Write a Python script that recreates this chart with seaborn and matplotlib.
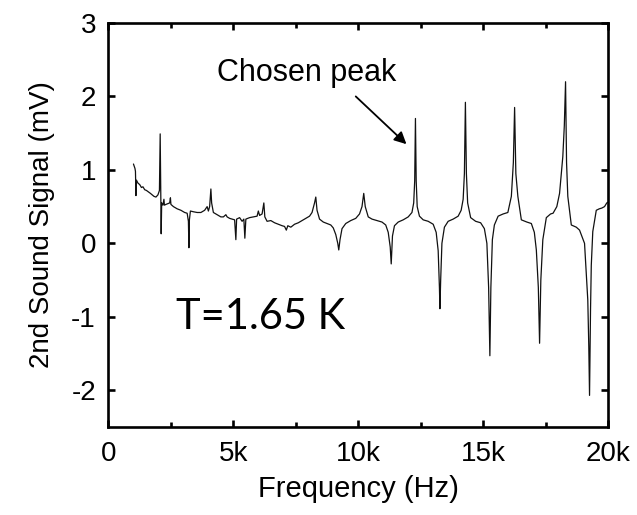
import matplotlib
matplotlib.use("Agg")
import matplotlib.pyplot as plt
import seaborn as sns
import pandas as pd

# ---- data ----
freq_khz = [
    1.00, 1.03, 1.06, 1.08, 1.10, 1.12, 1.18, 1.25, 1.32, 1.38, 1.45, 1.52, 1.60, 1.68, 1.75, 1.82, 1.90, 1.98,
    2.04, 2.07, 2.09, 2.11, 2.13, 2.18, 2.22, 2.24, 2.30, 2.45, 2.48, 2.50, 2.60, 2.75, 2.90, 3.05, 3.15,
    3.20, 3.22, 3.24, 3.28, 3.40, 3.55, 3.70, 3.85, 3.95, 4.00, 4.05, 4.10, 4.13, 4.20, 4.30, 4.40, 4.50,
    4.60, 4.70, 4.75, 4.85, 4.95, 5.05, 5.10, 5.13, 5.25, 5.35, 5.42, 5.46, 5.50, 5.65, 5.80, 5.95, 6.00,
    6.05, 6.15, 6.22, 6.26, 6.35, 6.50, 6.65, 6.80, 6.95, 7.05, 7.12, 7.18, 7.30, 7.45, 7.60, 7.75, 7.90,
    8.05, 8.15, 8.25, 8.30, 8.35, 8.45, 8.60, 8.75, 8.90, 9.00, 9.10, 9.18, 9.22, 9.27, 9.35, 9.50, 9.70,
    9.90, 10.05, 10.15, 10.22, 10.28, 10.40, 10.55, 10.75, 10.95, 11.10, 11.20, 11.28, 11.32, 11.37, 11.45,
    11.60, 11.80, 12.00, 12.15, 12.22, 12.26, 12.29, 12.32, 12.36, 12.45, 12.60, 12.80, 13.00, 13.12, 13.20,
    13.25, 13.27, 13.30, 13.35, 13.45, 13.60, 13.80, 14.00, 14.12, 14.20, 14.25, 14.29, 14.33, 14.38, 14.50,
    14.70, 14.90, 15.05, 15.15, 15.22, 15.27, 15.31, 15.37, 15.45, 15.60, 15.80, 15.99, 16.13, 16.21, 16.26,
    16.31, 16.39, 16.53, 16.75, 16.93, 17.05, 17.13, 17.21, 17.26, 17.31, 17.39, 17.53, 17.70, 17.80, 17.95,
    18.06, 18.19, 18.25, 18.30, 18.34, 18.39, 18.53, 18.73, 18.86, 19.06, 19.19, 19.23, 19.26, 19.30, 19.33,
    19.39, 19.53, 19.65, 19.75, 19.86, 19.95, 20.00,
]
signal_mv = [
    1.08, 1.05, 1.02, 0.98, 0.65, 0.86, 0.82, 0.80, 0.76, 0.77, 0.73, 0.72, 0.70, 0.68, 0.66, 0.64, 0.63, 0.66,
    0.72, 1.49, 0.75, 0.13, 0.55, 0.52, 0.60, 0.52, 0.53, 0.55, 0.62, 0.53, 0.50, 0.47, 0.45, 0.42, 0.41,
    0.30, -0.06, 0.32, 0.44, 0.43, 0.42, 0.42, 0.45, 0.50, 0.44, 0.50, 0.74, 0.55, 0.42, 0.40, 0.38, 0.36,
    0.36, 0.39, 0.36, 0.34, 0.33, 0.32, 0.05, 0.33, 0.35, 0.30, 0.33, 0.07, 0.33, 0.35, 0.36, 0.37, 0.44,
    0.38, 0.40, 0.55, 0.36, 0.30, 0.31, 0.28, 0.26, 0.24, 0.23, 0.18, 0.24, 0.22, 0.26, 0.28, 0.31, 0.34,
    0.37, 0.42, 0.55, 0.63, 0.45, 0.33, 0.29, 0.27, 0.25, 0.21, 0.12, 0.00, -0.09, 0.05, 0.20, 0.27, 0.31,
    0.34, 0.40, 0.50, 0.68, 0.50, 0.36, 0.33, 0.31, 0.29, 0.25, 0.15, -0.05, -0.28, 0.10, 0.24,
    0.29, 0.32, 0.36, 0.42, 0.55, 0.85, 1.70, 0.85, 0.50, 0.37, 0.32, 0.30, 0.26, 0.15, -0.10,
    -0.60, -0.89, -0.50, 0.00, 0.22, 0.30, 0.33, 0.37, 0.45, 0.60, 0.95, 1.92, 0.95, 0.55, 0.35,
    0.30, 0.28, 0.20, 0.00, -0.60, -1.53, -0.60, 0.05, 0.25, 0.37, 0.40, 0.42, 0.64, 1.10, 1.85,
    0.95, 0.64, 0.32, 0.29, 0.27, 0.15, -0.09, -0.60, -1.36, -0.50, 0.05, 0.35, 0.40, 0.41, 0.50,
    0.68, 1.18, 1.60, 2.20, 1.10, 0.64, 0.25, 0.22, 0.18, 0.00, -0.77, -1.40, -2.07, -0.90, -0.30,
    0.16, 0.45, 0.47, 0.48, 0.50, 0.55, 0.56,
]

x_ticks = [0, 5000, 10000, 15000, 20000]
x_tick_labels = ["0", "5k", "10k", "15k", "20k"]
x_minor_ticks = [2500, 7500, 12500, 17500]
y_ticks = [-2, -1, 0, 1, 2, 3]
y_tick_labels = ["-2", "-1", "0", "1", "2", "3"]

df = pd.DataFrame({"Frequency (Hz)": [f * 1000 for f in freq_khz],
                   "signal": signal_mv})

# ---- figure ----
sns.set_style("ticks")
plt.rcParams["font.family"] = ["Liberation Sans", "DejaVu Sans"]

fig = plt.figure(figsize=(6.37, 5.15), dpi=100, facecolor="white")
fig.patch.set_alpha(1.0)

ax = fig.add_axes([0.1703, 0.1709, 0.7842, 0.7845])

sns.lineplot(data=df, x="Frequency (Hz)", y="signal", ax=ax, color="#111111",
             linewidth=0.9, estimator=None, sort=False)

ax.set_xlim(0, 20000)
ax.set_ylim(-2.5, 3)
ax.set_xticks(x_ticks)
ax.set_xticklabels(x_tick_labels)
ax.set_xticks(x_minor_ticks, minor=True)
ax.set_yticks(y_ticks)
ax.set_yticklabels(y_tick_labels)

for s in ax.spines.values():
    s.set_linewidth(1.9)
    s.set_color("black")
    s.set_visible(True)

ax.tick_params(which="both", direction="in", top=True, right=True,
               width=1.9, color="black", labelsize=20, labelcolor="black")
ax.tick_params(which="major", length=5)
ax.tick_params(which="minor", length=3.5)
ax.tick_params(axis="x", which="major", pad=10)
ax.tick_params(axis="y", which="major", pad=9)

ax.set_xlabel("Frequency (Hz)", fontsize=21, labelpad=6, color="black")
ax.set_ylabel("2nd Sound Signal (mV)", fontsize=20, labelpad=12, color="black")

ax.text(7940, 2.12, "Chosen peak", fontsize=22, ha="center", va="bottom",
        color="black")
ax.annotate("", xy=(11930, 1.35), xytext=(9900, 2.00),
            arrowprops=dict(arrowstyle="-|>", color="black", lw=1.3,
                            mutation_scale=18, shrinkA=0, shrinkB=0))

ax.text(2700, -1.0, "T=1.65 K", fontsize=30, family=["Lato", "DejaVu Sans"],
        ha="left", va="center", color="black")

fig.savefig("out.png", dpi=100, facecolor="white", transparent=False)
